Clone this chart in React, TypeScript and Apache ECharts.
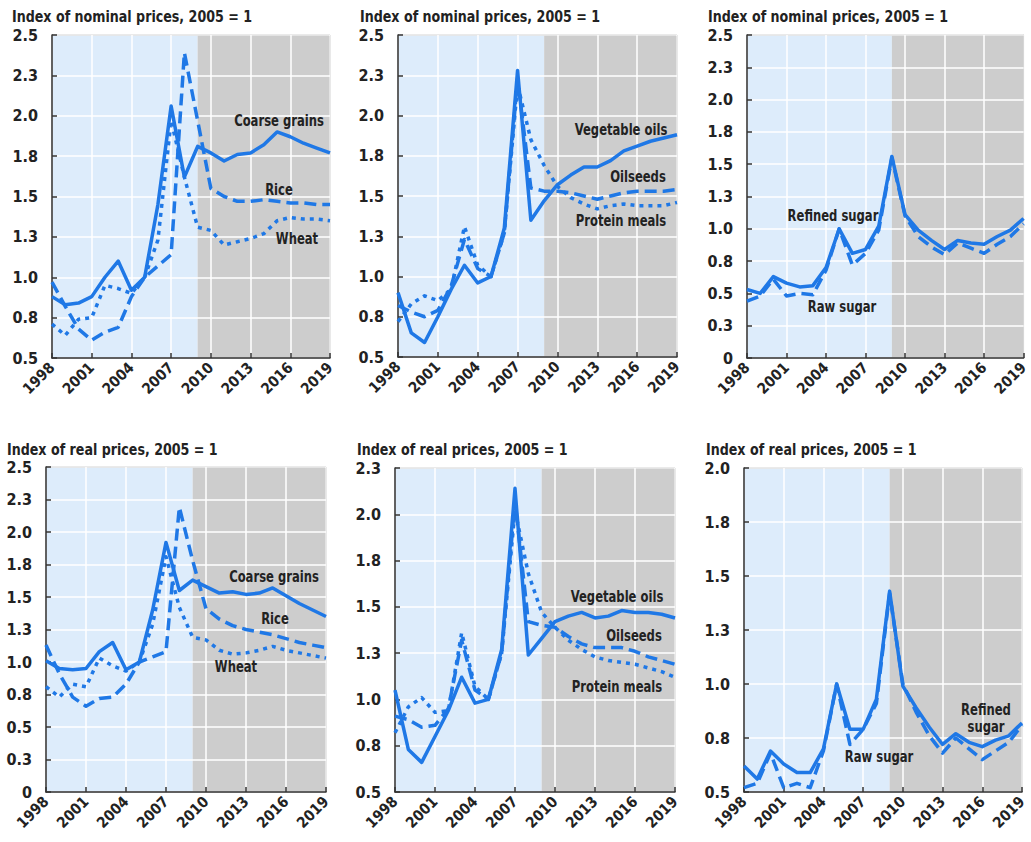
import React, { useEffect, useRef } from "react";
import * as echarts from "echarts";

const years = [1998, 1999, 2000, 2001, 2002, 2003, 2004, 2005, 2006, 2007, 2008, 2009, 2010, 2011, 2012, 2013, 2014, 2015, 2016, 2017, 2018, 2019];
const projectionStart = 2009;

const titleNominal = "Index of nominal prices, 2005 = 1";
const titleReal = "Index of real prices, 2005 = 1";

// Nominal
const nomCoarse = [0.88, 0.83, 0.84, 0.88, 1.0, 1.10, 0.92, 1.0, 1.45, 2.06, 1.62, 1.81, 1.77, 1.72, 1.76, 1.77, 1.82, 1.90, 1.87, 1.83, 1.80, 1.77];
const nomRice = [0.97, 0.82, 0.68, 0.61, 0.66, 0.69, 0.88, 1.0, 1.07, 1.14, 2.39, 1.97, 1.55, 1.50, 1.47, 1.47, 1.48, 1.47, 1.46, 1.46, 1.45, 1.45];
const nomWheat = [0.71, 0.64, 0.74, 0.75, 0.95, 0.93, 0.90, 1.0, 1.23, 1.97, 1.62, 1.31, 1.29, 1.20, 1.22, 1.24, 1.27, 1.35, 1.37, 1.36, 1.36, 1.35];
const nomVegOils = [0.90, 0.65, 0.59, 0.75, 0.92, 1.07, 0.96, 1.0, 1.30, 2.28, 1.35, 1.47, 1.57, 1.63, 1.68, 1.68, 1.72, 1.78, 1.81, 1.84, 1.86, 1.88];
const nomOilseeds = [0.82, 0.78, 0.75, 0.79, 0.94, 1.23, 1.05, 1.0, 1.27, 2.23, 1.55, 1.53, 1.53, 1.52, 1.50, 1.48, 1.50, 1.52, 1.53, 1.53, 1.53, 1.54];
const nomProtein = [0.72, 0.83, 0.88, 0.85, 0.92, 1.31, 1.07, 1.0, 1.27, 2.19, 1.85, 1.69, 1.56, 1.49, 1.45, 1.42, 1.44, 1.45, 1.44, 1.44, 1.44, 1.46];
const nomRefined = [0.53, 0.50, 0.63, 0.58, 0.55, 0.56, 0.70, 1.0, 0.81, 0.84, 1.02, 1.56, 1.11, 0.99, 0.91, 0.84, 0.91, 0.89, 0.88, 0.94, 0.99, 1.08];
const nomRaw = [0.44, 0.48, 0.61, 0.48, 0.50, 0.49, 0.68, 1.0, 0.72, 0.81, 0.99, 1.55, 1.10, 0.94, 0.86, 0.80, 0.89, 0.85, 0.81, 0.88, 0.94, 1.04];

// Real
const realCoarse = [1.01, 0.95, 0.94, 0.95, 1.08, 1.15, 0.94, 1.0, 1.40, 1.92, 1.55, 1.63, 1.58, 1.53, 1.54, 1.52, 1.53, 1.57, 1.51, 1.45, 1.40, 1.35];
const realRice = [1.13, 0.91, 0.73, 0.66, 0.72, 0.73, 0.83, 1.0, 1.04, 1.08, 2.19, 1.78, 1.41, 1.33, 1.28, 1.25, 1.23, 1.21, 1.18, 1.15, 1.13, 1.11];
const realWheat = [0.81, 0.73, 0.83, 0.81, 1.03, 0.97, 0.93, 1.0, 1.29, 1.81, 1.42, 1.19, 1.17, 1.09, 1.06, 1.07, 1.09, 1.12, 1.09, 1.07, 1.05, 1.03];
const realVegOils = [1.05, 0.73, 0.66, 0.80, 0.94, 1.12, 0.98, 1.0, 1.27, 2.14, 1.24, 1.33, 1.42, 1.45, 1.47, 1.44, 1.45, 1.48, 1.47, 1.47, 1.46, 1.44];
const realOilseeds = [0.91, 0.89, 0.85, 0.86, 0.95, 1.32, 1.05, 1.0, 1.25, 2.07, 1.42, 1.40, 1.39, 1.34, 1.30, 1.28, 1.28, 1.28, 1.26, 1.23, 1.21, 1.19];
const realProtein = [0.82, 0.96, 1.01, 0.93, 0.94, 1.36, 1.07, 1.0, 1.25, 2.02, 1.68, 1.47, 1.39, 1.32, 1.27, 1.23, 1.21, 1.20, 1.19, 1.17, 1.15, 1.12];
const realRefined = [0.62, 0.56, 0.69, 0.63, 0.59, 0.59, 0.70, 1.0, 0.79, 0.79, 0.93, 1.43, 0.99, 0.89, 0.80, 0.72, 0.77, 0.73, 0.71, 0.74, 0.76, 0.82];
const realRaw = [0.52, 0.54, 0.68, 0.52, 0.54, 0.52, 0.69, 1.0, 0.72, 0.79, 0.91, 1.42, 1.0, 0.87, 0.76, 0.68, 0.75, 0.70, 0.65, 0.69, 0.73, 0.81];

const FONT = "'Liberation Sans Narrow','Arial Narrow','DejaVu Sans Condensed',sans-serif";
const BLUE = "#1f78e6";
const LIGHT = "#ddecfb";
const GREY = "#cdcdcd";
const INK = "#222222";

const SOLID = "solid";
const DASHED = [12, 6];
const DOTTED = [4, 5];

type Panel = {
  title: string;
  titleX: number;
  titleY: number;
  left: number;
  top: number;
  width: number;
  height: number;
  min: number;
  max: number;
  lines: { name: string; data: number[]; type: any }[];
  labels: { text: string; x: number; y: number }[];
};

const panels: Panel[] = [
  {
    title: titleNominal, titleX: 12, titleY: 17,
    left: 52, top: 35, width: 278, height: 323, min: 0.5, max: 2.5,
    lines: [
      { name: "Coarse grains", data: nomCoarse, type: SOLID },
      { name: "Rice", data: nomRice, type: DASHED },
      { name: "Wheat", data: nomWheat, type: DOTTED },
    ],
    labels: [
      { text: "Coarse grains", x: 279, y: 121 },
      { text: "Rice", x: 279, y: 190 },
      { text: "Wheat", x: 297, y: 239 },
    ],
  },
  {
    title: titleNominal, titleX: 360, titleY: 17,
    left: 398, top: 35, width: 279, height: 322, min: 0.5, max: 2.5,
    lines: [
      { name: "Vegetable oils", data: nomVegOils, type: SOLID },
      { name: "Oilseeds", data: nomOilseeds, type: DASHED },
      { name: "Protein meals", data: nomProtein, type: DOTTED },
    ],
    labels: [
      { text: "Vegetable oils", x: 621, y: 130 },
      { text: "Oilseeds", x: 638, y: 177 },
      { text: "Protein meals", x: 621, y: 221 },
    ],
  },
  {
    title: titleNominal, titleX: 708, titleY: 17,
    left: 747, top: 35, width: 278, height: 323, min: 0, max: 2.5,
    lines: [
      { name: "Refined sugar", data: nomRefined, type: SOLID },
      { name: "Raw sugar", data: nomRaw, type: DASHED },
    ],
    labels: [
      { text: "Refined sugar", x: 833, y: 216 },
      { text: "Raw sugar", x: 842, y: 307 },
    ],
  },
  {
    title: titleReal, titleX: 7, titleY: 450,
    left: 46, top: 467, width: 280, height: 325, min: 0, max: 2.5,
    lines: [
      { name: "Coarse grains", data: realCoarse, type: SOLID },
      { name: "Rice", data: realRice, type: DASHED },
      { name: "Wheat", data: realWheat, type: DOTTED },
    ],
    labels: [
      { text: "Coarse grains", x: 274, y: 577 },
      { text: "Rice", x: 275, y: 619 },
      { text: "Wheat", x: 236, y: 667 },
    ],
  },
  {
    title: titleReal, titleX: 357, titleY: 450,
    left: 395, top: 468, width: 280, height: 324, min: 0.5, max: 2.25,
    lines: [
      { name: "Vegetable oils", data: realVegOils, type: SOLID },
      { name: "Oilseeds", data: realOilseeds, type: DASHED },
      { name: "Protein meals", data: realProtein, type: DOTTED },
    ],
    labels: [
      { text: "Vegetable oils", x: 617, y: 597 },
      { text: "Oilseeds", x: 634, y: 636 },
      { text: "Protein meals", x: 617, y: 687 },
    ],
  },
  {
    title: titleReal, titleX: 706, titleY: 450,
    left: 744, top: 468, width: 278, height: 324, min: 0.5, max: 2.0,
    lines: [
      { name: "Refined sugar", data: realRefined, type: SOLID },
      { name: "Raw sugar", data: realRaw, type: DASHED },
    ],
    labels: [
      { text: "Refined", x: 986, y: 710 },
      { text: "sugar", x: 986, y: 727 },
      { text: "Raw sugar", x: 879, y: 757 },
    ],
  },
];

function buildOption() {
  const grid = panels.map((p) => ({
    left: p.left, top: p.top, width: p.width, height: p.height,
    show: true, borderColor: "#555", borderWidth: 1, backgroundColor: "transparent",
  }));
  const xAxis = panels.map((p, i) => ({
    gridIndex: i, type: "value", min: years[0], max: years[years.length - 1], interval: 3,
    axisLine: { show: true, onZero: false, lineStyle: { color: "#333", width: 1.5 } },
    axisTick: { show: true, inside: true, length: 5, lineStyle: { color: "#333", width: 1.5 } },
    axisLabel: {
      rotate: 45, fontFamily: FONT, fontWeight: "bold", fontSize: 15, color: INK, margin: 7,
      formatter: (v: number) => String(v),
    },
    splitLine: { show: true, lineStyle: { color: "#ffffff", width: 1.5 } },
  }));
  const yAxis = panels.map((p, i) => ({
    gridIndex: i, type: "value", min: p.min, max: p.max, interval: 0.25,
    axisLine: { show: true, onZero: false, lineStyle: { color: "#333", width: 1.5 } },
    axisTick: { show: true, inside: true, length: 5, lineStyle: { color: "#333", width: 1.5 } },
    axisLabel: {
      fontFamily: FONT, fontWeight: "bold", fontSize: 16, color: INK, margin: 14,
      formatter: (v: number) => (Math.abs(v) < 1e-9 ? "0" : v.toFixed(1)),
    },
    splitLine: { show: true, lineStyle: { color: "#ffffff", width: 1.5 } },
  }));
  const series: any[] = [];
  panels.forEach((p, i) => {
    series.push({
      type: "line", xAxisIndex: i, yAxisIndex: i, data: [], silent: true,
      markArea: {
        silent: true, z: -1,
        data: [
          [{ xAxis: years[0], itemStyle: { color: LIGHT } }, { xAxis: projectionStart }],
          [{ xAxis: projectionStart, itemStyle: { color: GREY } }, { xAxis: years[years.length - 1] }],
        ],
      },
    });
    p.lines.forEach((l) => {
      series.push({
        name: l.name, type: "line", xAxisIndex: i, yAxisIndex: i, symbol: "none", z: 3,
        data: years.map((y, k) => [y, l.data[k]]),
        lineStyle: { color: BLUE, width: 3.5, type: l.type, cap: "butt", join: "round" },
      });
    });
  });
  const graphic: any[] = [];
  panels.forEach((p) => {
    graphic.push({
      type: "text", x: p.titleX, y: p.titleY, scaleX: 0.88,
      style: {
        text: p.title, fontFamily: FONT, fontWeight: "bold", fontSize: 16, fill: INK,
        textAlign: "left", textVerticalAlign: "middle",
      },
    });
    p.labels.forEach((lb) => {
      graphic.push({
        type: "text", x: lb.x, y: lb.y, z: 10, scaleX: 0.86,
        style: {
          text: lb.text, fontFamily: FONT, fontWeight: "bold", fontSize: 15, fill: INK,
          textAlign: "center", textVerticalAlign: "middle",
        },
      });
    });
  });
  return {
    animation: false,
    backgroundColor: "#ffffff",
    textStyle: { fontFamily: FONT },
    grid, xAxis, yAxis, series, graphic,
  };
}

export default function App() {
  const ref = useRef<HTMLDivElement>(null);
  useEffect(() => {
    document.body.style.margin = "0";
    if (!ref.current) return;
    const chart = echarts.init(ref.current, undefined, { renderer: "svg" });
    chart.setOption(buildOption() as any);
    return () => chart.dispose();
  }, []);
  return <div ref={ref} style={{ width: 1031, height: 842 }} />;
}
